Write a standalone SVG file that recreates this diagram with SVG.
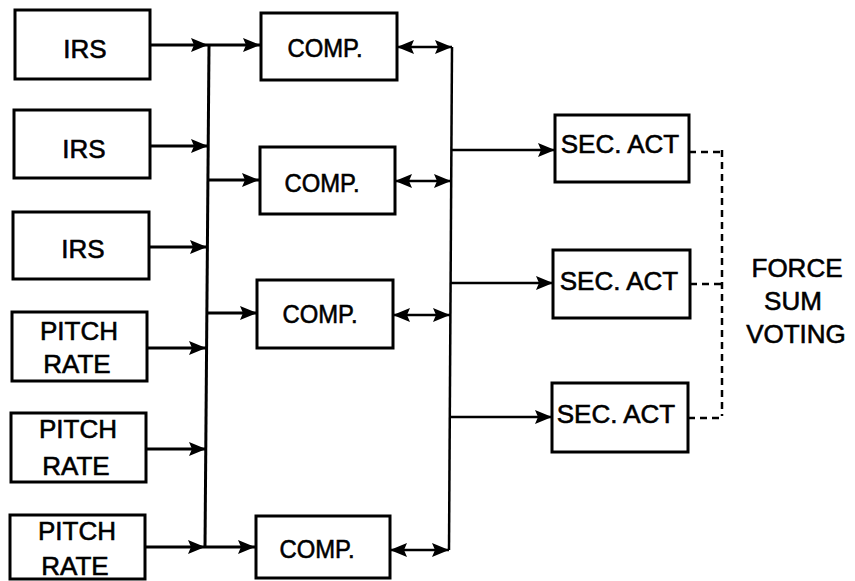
<svg xmlns="http://www.w3.org/2000/svg" width="855" height="581" viewBox="0 0 855 581">
<style>
.box{fill:#fff;stroke:#000;stroke-width:3}
.t{font-family:"Liberation Sans",Arial,Helvetica,sans-serif;font-size:26px;fill:#000;stroke:#000;stroke-width:0.6;text-anchor:middle}
.w{fill:none;stroke:#000;stroke-width:3}
.w2{fill:none;stroke:#000;stroke-width:2.5}
.d{fill:none;stroke:#000;stroke-width:2.5;stroke-dasharray:7 5}
</style>
<defs>
<marker id="ah" viewBox="0 0 17 14" refX="17" refY="7" markerWidth="17" markerHeight="14" markerUnits="userSpaceOnUse" orient="auto-start-reverse">
<path d="M0,0 L17,7 L0,14 L3,7 Z" fill="#000"/>
</marker>
</defs>
<rect width="855" height="581" fill="#fff"/>
<g id="connectors">
<path class="w" d="M209,45 L205,547"/>
<path class="w" d="M150,45 L208,45" marker-end="url(#ah)"/>
<path class="w" d="M208,45 L260,45" marker-end="url(#ah)"/>
<path class="w" d="M150,146 L208,146" marker-end="url(#ah)"/>
<path class="w" d="M208,180 L259,180" marker-end="url(#ah)"/>
<path class="w" d="M149,247 L207,247" marker-end="url(#ah)"/>
<path class="w" d="M147,348 L206,348" marker-end="url(#ah)"/>
<path class="w" d="M206,313 L257,313" marker-end="url(#ah)"/>
<path class="w" d="M146,449 L206,449" marker-end="url(#ah)"/>
<path class="w" d="M145,547 L205,547" marker-end="url(#ah)"/>
<path class="w" d="M205,547 L255,547" marker-end="url(#ah)"/>
<path class="w2" d="M452,47 L449,550"/>
<path class="w2" d="M397,47 L452,47" marker-start="url(#ah)" marker-end="url(#ah)"/>
<path class="w2" d="M395,181 L451,181" marker-start="url(#ah)" marker-end="url(#ah)"/>
<path class="w2" d="M393,315 L450,315" marker-start="url(#ah)" marker-end="url(#ah)"/>
<path class="w2" d="M390,550 L449,550" marker-start="url(#ah)" marker-end="url(#ah)"/>
<path class="w2" d="M452,150 L555,150" marker-end="url(#ah)"/>
<path class="w2" d="M451,283 L553,283" marker-end="url(#ah)"/>
<path class="w2" d="M450,417 L552,417" marker-end="url(#ah)"/>
<path class="d" d="M689,152 L722,152"/>
<path class="d" d="M690,284 L722,284"/>
<path class="d" d="M688,418 L722,418"/>
<path class="d" d="M722,150 L722,416"/>
</g>
<g id="irs1"><rect class="box" x="15" y="10" width="135" height="69"/><text class="t" x="85" y="58">IRS</text></g>
<g id="irs2"><rect class="box" x="14" y="110" width="136" height="68"/><text class="t" x="84" y="158">IRS</text></g>
<g id="irs3"><rect class="box" x="13" y="212" width="136" height="67"/><text class="t" x="83" y="258">IRS</text></g>
<g id="pitch1"><rect class="box" x="12" y="312" width="135" height="69"/><text class="t" x="79" y="340">PITCH</text><text class="t" x="77" y="373">RATE</text></g>
<g id="pitch2"><rect class="box" x="11" y="413" width="135" height="69"/><text class="t" x="78" y="438">PITCH</text><text class="t" x="76" y="475">RATE</text></g>
<g id="pitch3"><rect class="box" x="10" y="515" width="135" height="64"/><text class="t" x="77" y="540">PITCH</text><text class="t" x="75" y="575">RATE</text></g>
<g id="comp1"><rect class="box" x="261" y="13" width="136" height="67"/><text class="t" x="325" y="57" textLength="75" lengthAdjust="spacingAndGlyphs">COMP.</text></g>
<g id="comp2"><rect class="box" x="260" y="147" width="135" height="67"/><text class="t" x="322" y="192" textLength="75" lengthAdjust="spacingAndGlyphs">COMP.</text></g>
<g id="comp3"><rect class="box" x="257" y="280" width="136" height="68"/><text class="t" x="320" y="323" textLength="75" lengthAdjust="spacingAndGlyphs">COMP.</text></g>
<g id="comp4"><rect class="box" x="256" y="516" width="134" height="62"/><text class="t" x="317" y="558" textLength="75" lengthAdjust="spacingAndGlyphs">COMP.</text></g>
<g id="sec1"><rect class="box" x="555" y="115" width="134" height="67"/><text class="t" x="620" y="153">SEC. ACT</text></g>
<g id="sec2"><rect class="box" x="553" y="250" width="137" height="68"/><text class="t" x="619" y="290">SEC. ACT</text></g>
<g id="sec3"><rect class="box" x="552" y="383" width="136" height="69"/><text class="t" x="616" y="423">SEC. ACT</text></g>
<g id="voting"><text class="t" x="797" y="277">FORCE</text><text class="t" x="793" y="310">SUM</text><text class="t" x="796" y="343">VOTING</text></g>
</svg>
